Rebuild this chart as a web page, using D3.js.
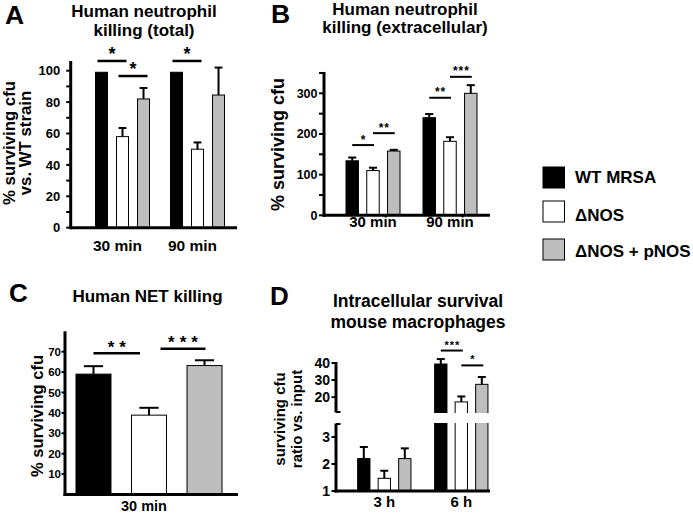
<!DOCTYPE html>
<html><head><meta charset="utf-8">
<script src="https://cdn.jsdelivr.net/npm/d3@7"></script>
<style>
body{margin:0;background:#fff}
svg{display:block}
text{font-family:"Liberation Sans",Arial,Helvetica,sans-serif;font-weight:bold;fill:#000}
</style></head><body><svg id="c" width="693" height="513"></svg>
<script>
// ---------------- DATA ----------------
const series = ["WT MRSA", "ΔNOS", "ΔNOS + pNOS"];
const seriesFill = ["#000000", "#ffffff", "#bebebe"];

// Panel A: Human neutrophil killing (total)
const aGroups = ["30 min", "90 min"];
const aWT = [99, 99], aWTErr = [0, 0];
const aDNOS = [58, 50], aDNOSErr = [5.5, 4.3];
const aPNOS = [82, 84.5], aPNOSErr = [7, 17.5];
const aTicks = [0, 10, 20, 30, 40, 50, 60, 70, 80, 90, 100];
const aTickLabels = [0, 20, 40, 60, 80, 100];
const aSig = [
  {g: "30 min", a: 0, b: 1, level: 106.2, label: "*"},
  {g: "30 min", a: 1, b: 2, level: 96.6, label: "*"},
  {g: "90 min", a: 0, b: 1, level: 106.2, label: "*"}
];

// Panel B: Human neutrophil killing (extracellular)
const bGroups = ["30 min", "90 min"];
const bWT = [134, 240], bWTErr = [8, 9];
const bDNOS = [110, 182], bDNOSErr = [7, 10];
const bPNOS = [158, 300], bPNOSErr = [3, 20];
const bTicks = [0, 50, 100, 150, 200, 250, 300, 350];
const bTickLabels = [0, 100, 200, 300];
const bSig = [
  {g: "30 min", a: 0, b: 1, level: 172.7, label: "*"},
  {g: "30 min", a: 1, b: 2, level: 202, label: "**"},
  {g: "90 min", a: 0, b: 1, level: 289, label: "**"},
  {g: "90 min", a: 1, b: 2, level: 340.5, label: "***"}
];

// Panel C: Human NET killing
const cGroups = ["30 min"];
const cWT = [59], cWTErr = [3.9];
const cDNOS = [38.9], cDNOSErr = [3.6];
const cPNOS = [63.2], cPNOSErr = [2.6];
const cTicks = [10, 20, 30, 40, 50, 60, 70];
const cTickLabels = [10, 20, 30, 40, 50, 60, 70];
const cSig = [
  {g: "30 min", a: 0, b: 1, level: 69.3, label: "**"},
  {g: "30 min", a: 1, b: 2, level: 71.4, label: "***"}
];

// Panel D: Intracellular survival mouse macrophages (broken axis)
const dGroups = ["3 h", "6 h"];
const dWT = [2.2, 39.4], dWTErr = [0.43, 2.9];
const dDNOS = [1.47, 17.2], dDNOSErr = [0.28, 3.2];
const dPNOS = [2.2, 27.5], dPNOSErr = [0.38, 4.3];
const dLowTicks = [1, 2, 3];
const dUpTicks = [20, 30, 40];
const dSig = [
  {g: "6 h", a: 0, b: 1, level: 47.3, label: "***"},
  {g: "6 h", a: 1, b: 2, level: 38.6, label: "*"}
];

// ---------------- DRAWING ----------------
const svg = d3.select("#c");

function txt(g, x, y, s, size, anchor, extra) {
  const t = g.append("text").attr("x", x).attr("y", y).text(s)
    .attr("font-size", size).attr("text-anchor", anchor || "start");
  if (extra) extra(t);
  return t;
}

function makeBars(g, cfg) {
  const x0 = d3.scaleBand().domain(cfg.groups).range(cfg.xRange).paddingInner(0).paddingOuter(0);
  const x1 = d3.scaleBand().domain(d3.range(series.length)).range([0, cfg.innerW]).paddingInner(cfg.padIn).paddingOuter(0);
  const off = (x0.bandwidth() - cfg.innerW) / 2;
  const bx = (gName, si) => x0(gName) + off + x1(si);
  const cx = (gName, si) => bx(gName, si) + x1.bandwidth() / 2;
  const data = [];
  cfg.groups.forEach((gName, gi) => series.forEach((s, si) => {
    data.push({g: gName, si, v: cfg.vals[si][gi], e: cfg.errs[si][gi]});
  }));
  const base = cfg.yBase;
  g.selectAll(null).data(data).enter().append("rect")
    .attr("x", d => bx(d.g, d.si))
    .attr("width", x1.bandwidth())
    .attr("y", d => cfg.yOf(d.v))
    .attr("height", d => base - cfg.yOf(d.v))
    .attr("fill", d => seriesFill[d.si])
    .attr("stroke", "#000").attr("stroke-width", 1);
  const capW = x1.bandwidth() * cfg.capFrac;
  const eb = data.filter(d => d.e > 0);
  g.selectAll(null).data(eb).enter().append("line")
    .attr("x1", d => cx(d.g, d.si)).attr("x2", d => cx(d.g, d.si))
    .attr("y1", d => cfg.yOf(d.v)).attr("y2", d => cfg.yOf(d.v + d.e))
    .attr("stroke", "#000").attr("stroke-width", cfg.errW);
  g.selectAll(null).data(eb).enter().append("line")
    .attr("x1", d => cx(d.g, d.si) - capW / 2).attr("x2", d => cx(d.g, d.si) + capW / 2)
    .attr("y1", d => cfg.yOf(d.v + d.e)).attr("y2", d => cfg.yOf(d.v + d.e))
    .attr("stroke", "#000").attr("stroke-width", cfg.errW);
  return {x0, x1, bx, cx};
}

function drawSig(g, sig, sc, yOf, st) {
  sig.forEach((s, i) => {
    const pad = st.pads[i] || st.pads[0];
    const xa = sc.cx(s.g, s.a) + pad[0];
    const xb = sc.cx(s.g, s.b) + pad[1];
    const yy = yOf(s.level);
    g.append("line").attr("x1", xa).attr("x2", xb).attr("y1", yy).attr("y2", yy)
      .attr("stroke", "#000").attr("stroke-width", st.lw);
    txt(g, (xa + xb) / 2 + st.ls / 2, yy - st.off, s.label, st.fs, "middle",
      t => t.attr("letter-spacing", st.ls));
  });
}

function yAxis(g, y, ax, ticks, labels, st) {
  g.selectAll(null).data(ticks).enter().append("line")
    .attr("x1", ax - st.tl).attr("x2", ax).attr("y1", d => y(d)).attr("y2", d => y(d))
    .attr("stroke", "#000").attr("stroke-width", st.tw);
  g.selectAll(null).data(labels).enter().append("text")
    .attr("x", ax - st.lp).attr("y", d => y(d)).attr("dy", "0.36em")
    .attr("text-anchor", "end").attr("font-size", st.fs).text(d => d);
}

function vline(g, x, y1, y2, w) {
  g.append("line").attr("x1", x).attr("x2", x).attr("y1", y1).attr("y2", y2)
    .attr("stroke", "#000").attr("stroke-width", w);
}
function hline(g, x1, x2, y, w) {
  g.append("line").attr("x1", x1).attr("x2", x2).attr("y1", y).attr("y2", y)
    .attr("stroke", "#000").attr("stroke-width", w);
}
function rotLabel(g, x, y, s, size) {
  g.append("text").attr("transform", `translate(${x},${y}) rotate(-90)`)
    .attr("text-anchor", "middle").attr("font-size", size).text(s);
}

// ----- Panel A -----
{
  const g = svg.append("g");
  const y = d3.scaleLinear().domain([0, 100]).range([227.7, 70.7]);
  const sc = makeBars(g, {groups: aGroups, xRange: [85, 235], innerW: 54, padIn: 0.43,
    vals: [aWT, aDNOS, aPNOS], errs: [aWTErr, aDNOSErr, aPNOSErr],
    yOf: y, yBase: y(0), capFrac: 0.65, errW: 2});
  yAxis(g, y, 70.7, aTicks, aTickLabels, {tl: 4.5, tw: 2, lp: 10.5, fs: 13});
  vline(g, 70.7, y(0) + 1.5, y(106.2), 3);
  hline(g, 69.5, 237, y(0), 3);
  aGroups.forEach(d => txt(g, sc.x0(d) + sc.x0.bandwidth() / 2 - 5, 251, d, 15.5, "middle"));
  drawSig(g, aSig, sc, y, {pads: [[-4, 4]], lw: 2.5, fs: 18, off: 1, ls: 0});
  txt(g, 144, 16.5, "Human neutrophil", 17, "middle");
  txt(g, 144, 36, "killing (total)", 17, "middle");
  rotLabel(g, 15, 143, "% surviving cfu", 16.8);
  rotLabel(g, 31, 143, "vs. WT strain", 16.8);
  txt(g, 5, 24, "A", 26.5, "start");
}

// ----- Panel B -----
{
  const g = svg.append("g");
  const y = d3.scaleLinear().domain([0, 300]).range([215.3, 93.3]);
  const sc = makeBars(g, {groups: bGroups, xRange: [334.5, 488.5], innerW: 54, padIn: 0.4,
    vals: [bWT, bDNOS, bPNOS], errs: [bWTErr, bDNOSErr, bPNOSErr],
    yOf: y, yBase: y(0), capFrac: 0.65, errW: 2});
  yAxis(g, y, 324, bTicks, bTickLabels, {tl: 5, tw: 2, lp: 6.5, fs: 12.5});
  vline(g, 324, y(0) + 1.5, y(350) - 1, 3);
  hline(g, 322.5, 490, y(0), 3);
  bGroups.forEach(d => txt(g, sc.x0(d) + sc.x0.bandwidth() / 2, 227, d, 15, "middle"));
  drawSig(g, bSig, sc, y, {pads: [[0, 1]], lw: 2, fs: 12, off: 1.5, ls: 1});
  txt(g, 405, 15, "Human neutrophil", 17, "middle");
  txt(g, 405, 33, "killing (extracellular)", 17, "middle");
  rotLabel(g, 284, 144.5, "% surviving cfu", 18);
  txt(g, 271, 23, "B", 26.5, "start");
}

// ----- Panel C -----
{
  const g = svg.append("g");
  const y = d3.scaleLinear().domain([0, 70]).range([494.5, 351.7]);
  const sc = makeBars(g, {groups: cGroups, xRange: [76, 222], innerW: 146, padIn: 0.37,
    vals: [cWT, cDNOS, cPNOS], errs: [cWTErr, cDNOSErr, cPNOSErr],
    yOf: y, yBase: y(0), capFrac: 0.55, errW: 2});
  yAxis(g, y, 65, cTicks, cTickLabels, {tl: 3.5, tw: 2, lp: 4, fs: 11.5});
  vline(g, 65, y(0) + 1.5, y(80), 3);
  hline(g, 63.5, 238, y(0), 3);
  cGroups.forEach(d => txt(g, sc.x0(d) + sc.x0.bandwidth() / 2 - 5, 511, d, 14.5, "middle"));
  drawSig(g, cSig, sc, y, {pads: [[0, -9], [11.5, 1]], lw: 2.5, fs: 17, off: 0.5, ls: 5});
  txt(g, 147.5, 302, "Human NET killing", 17, "middle");
  rotLabel(g, 42.7, 416, "% surviving cfu", 16.5);
  txt(g, 9, 302, "C", 26, "start");
}

// ----- Panel D -----
{
  const g = svg.append("g");
  const yLow = d3.scaleLinear().domain([1, 3.5]).range([491, 423.5]);
  const yUp = d3.scaleLinear().domain([11, 40]).range([412.5, 363]);
  const yOf = v => (v <= 3.5 ? yLow(v) : yUp(v));
  const sc = makeBars(g, {groups: dGroups, xRange: [345.8, 499.8], innerW: 53.3, padIn: 0.4,
    vals: [dWT, dDNOS, dPNOS], errs: [dWTErr, dDNOSErr, dPNOSErr],
    yOf: yOf, yBase: yLow(1), capFrac: 0.65, errW: 2});
  // axis break gap
  g.append("rect").attr("x", 330).attr("width", 170)
    .attr("y", yUp(11) + 0.5).attr("height", yLow(3.5) - yUp(11) - 1).attr("fill", "#fff");
  yAxis(g, yLow, 336, dLowTicks, dLowTicks, {tl: 4.5, tw: 2, lp: 6, fs: 14});
  yAxis(g, yUp, 336, dUpTicks, dUpTicks, {tl: 4.5, tw: 2, lp: 6, fs: 14});
  vline(g, 336, yLow(1) + 1.5, yLow(3.5), 3);
  vline(g, 336, yUp(11), yUp(40) - 1, 3);
  hline(g, 336, 340.5, yLow(3.5) + 0.5, 2);
  hline(g, 336, 340.5, yUp(11) - 0.5, 2);
  hline(g, 334.5, 490, yLow(1), 3);
  dGroups.forEach(d => txt(g, sc.x0(d) + sc.x0.bandwidth() / 2, 507, d, 15, "middle"));
  drawSig(g, dSig, sc, yUp, {pads: [[0, 1.5]], lw: 2, fs: 11, off: 2, ls: 1});
  txt(g, 418, 307.3, "Intracellular survival", 17.5, "middle");
  txt(g, 418, 328.3, "mouse macrophages", 17.5, "middle");
  rotLabel(g, 285, 419, "surviving cfu", 15);
  rotLabel(g, 301.7, 419, "ratio vs. input", 15);
  txt(g, 270, 305, "D", 26, "start");
}

// ----- Legend -----
{
  const g = svg.append("g");
  const lyText = [183.3, 220.5, 256.5];
  const rowsY = [167, 201, 239];
  g.selectAll(null).data(series).enter().append("rect")
    .attr("x", 543).attr("y", (d, i) => rowsY[i]).attr("width", 21.5).attr("height", 21)
    .attr("fill", (d, i) => seriesFill[i]).attr("stroke", "#000").attr("stroke-width", 1);
  g.selectAll(null).data(series).enter().append("text")
    .attr("x", 575).attr("y", (d, i) => lyText[i]).attr("font-size", 17).text(d => d);
}
</script></body></html>
